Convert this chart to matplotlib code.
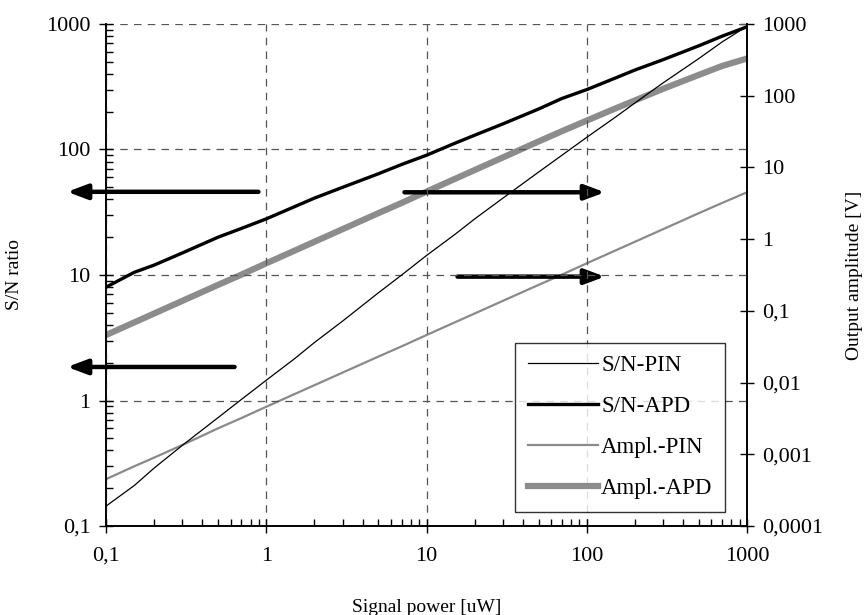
import numpy as np
import matplotlib.pyplot as plt
from matplotlib.ticker import FixedLocator, NullFormatter, LogLocator

plt.rcParams['font.family'] = ['Liberation Serif', 'DejaVu Serif']

# signal power [uW]
power = [0.1, 0.15, 0.2, 0.3, 0.5, 0.7, 1, 1.5, 2, 3, 5, 7, 10, 15, 20, 30, 50, 70, 100, 150, 200, 300, 500, 700, 1000]

# S/N ratios (left axis)
sn_pin = [0.144, 0.21, 0.29, 0.44, 0.73, 1.02, 1.45, 2.15, 2.9, 4.3, 7.2, 10, 14.3, 21, 28, 41, 66, 90, 125, 180, 235, 340, 530, 720, 960]
sn_apd = [8.0, 10.5, 12, 15, 20, 23.5, 28, 35, 41, 50, 64, 76, 90, 112, 130, 160, 210, 255, 300, 370, 430, 520, 670, 800, 950]

# output amplitudes [V] (right axis)
ampl_pin = [0.00045, 0.00068, 0.0009, 0.00135, 0.0023, 0.0032, 0.0046, 0.0069, 0.0092, 0.0138, 0.023, 0.032, 0.046, 0.069, 0.092, 0.138, 0.23, 0.32, 0.46, 0.69, 0.92, 1.38, 2.3, 3.2, 4.5]
ampl_apd = [0.046, 0.069, 0.092, 0.138, 0.23, 0.32, 0.46, 0.69, 0.92, 1.38, 2.3, 3.2, 4.6, 6.9, 9.2, 13.8, 23, 32, 45, 66, 86, 125, 195, 260, 330]

xticks = [0.1, 1, 10, 100, 1000]
xlabels = ['0,1', '1', '10', '100', '1000']
lticks = [0.1, 1, 10, 100, 1000]
llabels = ['0,1', '1', '10', '100', '1000']
rticks = [0.0001, 0.001, 0.01, 0.1, 1, 10, 100, 1000]
rlabels = ['0,0001', '0,001', '0,01', '0,1', '1', '10', '100', '1000']

fig = plt.figure(figsize=(8.66, 6.15), dpi=100)
ax = fig.add_axes([0.1224, 0.1447, 0.7402, 0.8163])
ax2 = ax.twinx()

ax.set_xscale('log')
ax.set_yscale('log')
ax2.set_yscale('log')
ax.set_xlim(0.1, 1000)
ax.set_ylim(0.1, 1000)
ax2.set_ylim(0.0001, 1000)

l1, = ax.plot(power, sn_pin, color='black', lw=0.9)
l2, = ax.plot(power, sn_apd, color='black', lw=2.4)
l3, = ax2.plot(power, ampl_pin, color='#8a8a8a', lw=1.6)
l4, = ax2.plot(power, ampl_apd, color='#8c8c8c', lw=4.5)

# grid on the major decades
ax.grid(True, which='major', linestyle=(0, (6, 5)), color='#555555', lw=0.9)

ax.xaxis.set_major_locator(FixedLocator(xticks))
ax.set_xticklabels(xlabels)
ax.yaxis.set_major_locator(FixedLocator(lticks))
ax.set_yticklabels(llabels)
ax.xaxis.set_minor_locator(LogLocator(base=10, subs=np.arange(2, 10)))
ax.yaxis.set_minor_locator(LogLocator(base=10, subs=np.arange(2, 10)))
ax.xaxis.set_minor_formatter(NullFormatter())
ax.yaxis.set_minor_formatter(NullFormatter())
ax2.yaxis.set_major_locator(FixedLocator(rticks))
ax2.set_yticklabels(rlabels)
ax2.yaxis.set_minor_locator(FixedLocator([]))

ax.tick_params(which='major', direction='inout', length=10, width=1, labelsize=16, pad=6)
ax.tick_params(which='minor', direction='in', length=5, width=1)
ax2.tick_params(which='major', direction='inout', length=10, width=1, labelsize=16, pad=6)
ax.tick_params(axis='x', pad=10)

for a in (ax, ax2):
    for s in a.spines.values():
        s.set_linewidth(1.2)
ax.spines['top'].set_visible(False)
ax2.spines['top'].set_visible(False)

ax.set_xlabel('Signal power [uW]', fontsize=14)
ax.xaxis.set_label_coords(0.5, -0.145)
ax.set_ylabel('S/N ratio', fontsize=14)
ax.yaxis.set_label_coords(-0.13, 0.5)
ax2.set_ylabel('Output amplitude [V]', fontsize=14, rotation=90)
ax2.yaxis.set_label_coords(1.155, 0.5)

# arrows showing which axis each pair of curves belongs to
arrow = dict(arrowstyle='-|>,head_length=1.2,head_width=0.45', color='black', lw=3.2)
ax.annotate('', xy=(0.055, 46), xytext=(0.93, 46), arrowprops=arrow, annotation_clip=False)
ax.annotate('', xy=(0.055, 1.85), xytext=(0.66, 1.85), arrowprops=arrow, annotation_clip=False)
ax2.annotate('', xy=(135, 4.5), xytext=(7, 4.5), arrowprops=arrow, annotation_clip=False)
ax2.annotate('', xy=(135, 0.3), xytext=(15, 0.3), arrowprops=arrow, annotation_clip=False)

leg = ax.legend([l1, l2, l3, l4], ['S/N-PIN', 'S/N-APD', 'Ampl.-PIN', 'Ampl.-APD'],
                loc='lower right', bbox_to_anchor=(0.9657, 0.028), fontsize=16.5,
                handlelength=3.05, handletextpad=0.15, labelspacing=0.87,
                frameon=True, fancybox=False, borderpad=0.55, borderaxespad=0)
leg.get_frame().set_edgecolor('black')
leg.get_frame().set_linewidth(1.0)
leg.set_zorder(5)
ax.set_zorder(ax2.get_zorder() + 1)
ax.patch.set_visible(False)

fig.savefig('out.png', dpi=100)
